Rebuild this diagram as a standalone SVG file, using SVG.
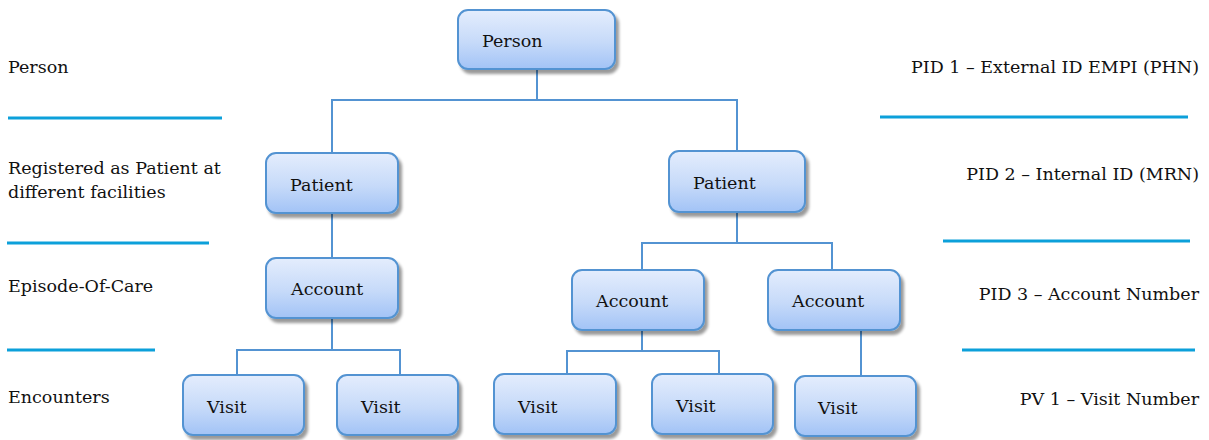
<svg xmlns="http://www.w3.org/2000/svg" width="1209" height="440" viewBox="0 0 1209 440">
  <defs>
    <linearGradient id="boxFill" x1="0" y1="0" x2="0" y2="1">
      <stop offset="0" stop-color="#e4edfd"/>
      <stop offset="0.55" stop-color="#c6daf9"/>
      <stop offset="1" stop-color="#a2c3f6"/>
    </linearGradient>
    <filter id="shadow" x="-10%" y="-10%" width="125%" height="130%">
      <feGaussianBlur in="SourceAlpha" stdDeviation="1.5"/>
      <feOffset dx="3" dy="4" result="off"/>
      <feComponentTransfer><feFuncA type="linear" slope="0.4"/></feComponentTransfer>
      <feMerge><feMergeNode/><feMergeNode in="SourceGraphic"/></feMerge>
    </filter>
  </defs>
  <style>
    .box { fill: url(#boxFill); stroke: #5393d2; stroke-width: 2; filter: url(#shadow); }
    text { font-family: 'DejaVu Serif', serif; fill: #111; }
    .lbl { font-size: 17.5px; }
    .side { font-size: 17.5px; }
    .end { text-anchor: end; }
    .conn { fill: none; stroke: #5393d2; stroke-width: 2; }
    .sep { stroke: #0ca0da; stroke-width: 3; }
  </style>

  <!-- level separators -->
  <g id="separators">
    <line class="sep" x1="8" y1="118" x2="222" y2="118"/>
    <line class="sep" x1="7" y1="243" x2="209" y2="243"/>
    <line class="sep" x1="7" y1="350" x2="155" y2="350"/>
    <line class="sep" x1="880" y1="117" x2="1188" y2="117"/>
    <line class="sep" x1="943" y1="241" x2="1190" y2="241"/>
    <line class="sep" x1="962" y1="350" x2="1195" y2="350"/>
  </g>

  <!-- level captions -->
  <g id="captions">
    <text class="side" x="8" y="73">Person</text>
    <text class="side" x="8" y="174">Registered as Patient at</text>
    <text class="side" x="8" y="198">different facilities</text>
    <text class="side" x="8" y="292">Episode-Of-Care</text>
    <text class="side" x="8" y="403">Encounters</text>
    <text class="side end" x="1199" y="73">PID 1 – External ID EMPI (PHN)</text>
    <text class="side end" x="1199" y="180">PID 2 – Internal ID (MRN)</text>
    <text class="side end" x="1199" y="300">PID 3 – Account Number</text>
    <text class="side end" x="1199" y="405">PV 1 – Visit Number</text>
  </g>

  <!-- tree connectors -->
  <g id="connectors">
    <polyline class="conn" points="537,69 537,100"/>
    <polyline class="conn" points="332,152 332,100 737,100 737,151"/>
    <polyline class="conn" points="332,213 332,258"/>
    <polyline class="conn" points="332,318 332,350"/>
    <polyline class="conn" points="237,375 237,350 400,350 400,375"/>
    <polyline class="conn" points="737,212 737,243"/>
    <polyline class="conn" points="642,270 642,243 832,243 832,270"/>
    <polyline class="conn" points="642,330 642,351"/>
    <polyline class="conn" points="567,374 567,351 719,351 719,374"/>
    <polyline class="conn" points="861,330 861,376"/>
  </g>

  <g id="person">
    <rect class="box" x="458" y="10" width="157" height="59" rx="10"/>
    <text class="lbl" x="482" y="47">Person</text>
  </g>
  <g id="patient-1">
    <rect class="box" x="266" y="153" width="132" height="60" rx="10"/>
    <text class="lbl" x="290" y="191">Patient</text>
  </g>
  <g id="patient-2">
    <rect class="box" x="669" y="151" width="136" height="61" rx="10"/>
    <text class="lbl" x="693" y="189">Patient</text>
  </g>
  <g id="account-1">
    <rect class="box" x="266" y="258" width="132" height="60" rx="10"/>
    <text class="lbl" x="291" y="295">Account</text>
  </g>
  <g id="account-2">
    <rect class="box" x="572" y="270" width="132" height="60" rx="10"/>
    <text class="lbl" x="596" y="307">Account</text>
  </g>
  <g id="account-3">
    <rect class="box" x="768" y="270" width="132" height="60" rx="10"/>
    <text class="lbl" x="792" y="307">Account</text>
  </g>
  <g id="visit-1">
    <rect class="box" x="183" y="375" width="121" height="60" rx="10"/>
    <text class="lbl" x="207" y="413">Visit</text>
  </g>
  <g id="visit-2">
    <rect class="box" x="337" y="375" width="121" height="60" rx="10"/>
    <text class="lbl" x="361" y="413">Visit</text>
  </g>
  <g id="visit-3">
    <rect class="box" x="494" y="374" width="122" height="60" rx="10"/>
    <text class="lbl" x="518" y="413">Visit</text>
  </g>
  <g id="visit-4">
    <rect class="box" x="652" y="374" width="121" height="60" rx="10"/>
    <text class="lbl" x="676" y="412">Visit</text>
  </g>
  <g id="visit-5">
    <rect class="box" x="795" y="376" width="121" height="60" rx="10"/>
    <text class="lbl" x="818" y="414">Visit</text>
  </g>
</svg>
